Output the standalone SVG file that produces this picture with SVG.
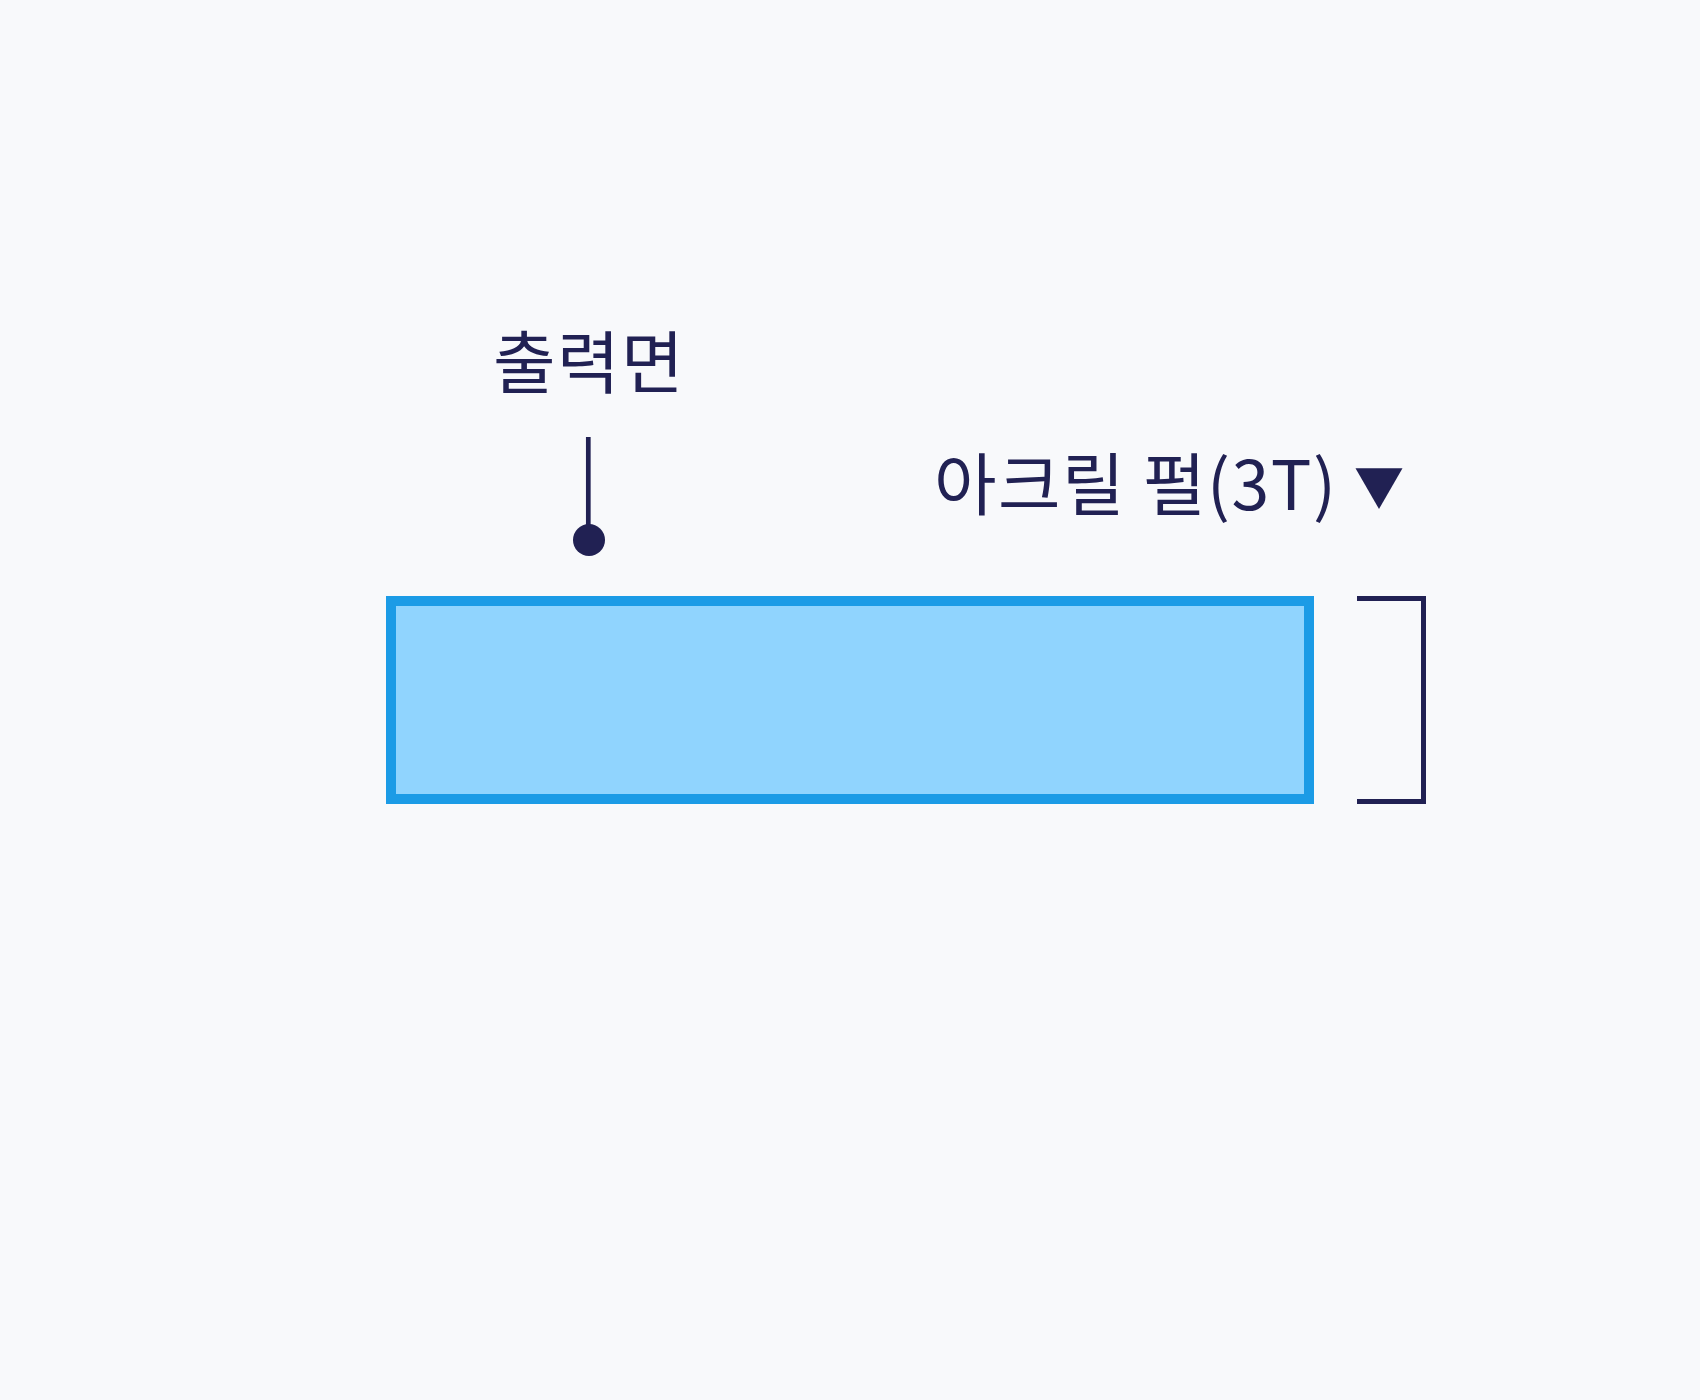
<svg xmlns="http://www.w3.org/2000/svg" width="1700" height="1400" viewBox="0 0 1700 1400">
<style>
.lbl{font-family:"Noto Sans CJK KR","Noto Sans",sans-serif;font-size:68px;fill:#212153;letter-spacing:1.5px}
.ink{stroke:#212153;fill:none}
</style>
<rect width="1700" height="1400" fill="#F8F9FB"/>
<g id="panel">
<rect x="391" y="601" width="918" height="198" fill="#90D4FE" stroke="#1B9BE6" stroke-width="10"/>
</g>
<g id="label-output">
<text class="lbl" x="589" y="388" text-anchor="middle">출력면</text>
</g>
<g id="label-acrylic">
<text class="lbl" x="934" y="510">아크릴 펄(3T) <tspan x="1354" dy="-4" font-size="50">▼</tspan></text>
</g>
<g id="connectors">
<line class="ink" x1="588.3" y1="437" x2="588.3" y2="530" stroke-width="4.7"/>
<circle cx="589" cy="540" r="16" fill="#212153"/>
<path class="ink" d="M1357,598.5 H1423.5 V801.5 H1357" stroke-width="5"/>
</g>
</svg>
